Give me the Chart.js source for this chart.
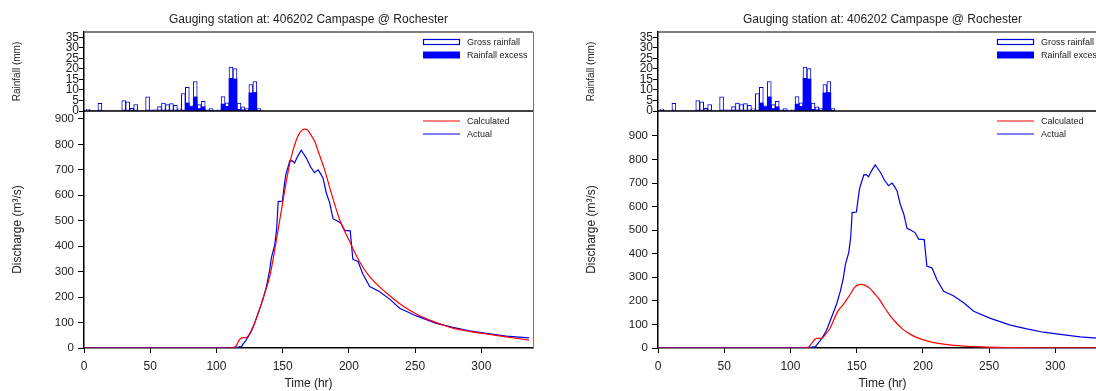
<!DOCTYPE html>
<html><head><meta charset="utf-8">
<script src="https://cdn.jsdelivr.net/npm/chart.js@4.4.1/dist/chart.umd.min.js"></script>
<style>
html,body{margin:0;padding:0;background:#fff;overflow:hidden;}
#wrap{position:relative;width:1096px;height:391px;overflow:hidden;background:#fff;}
.panel{position:absolute;top:0;width:560px;height:391px;}
.panel canvas{position:absolute;left:0;top:0;}
</style></head><body>
<div id="wrap">
  <div class="panel" style="left:0px"><canvas id="rainL" width="560" height="391"></canvas><canvas id="flowL" width="560" height="391"></canvas></div>
  <div class="panel" style="left:574px"><canvas id="rainR" width="560" height="391"></canvas><canvas id="flowR" width="560" height="391"></canvas></div>
</div>
<script>
// ---------------- data ----------------
const titleText = 'Gauging station at: 406202 Campaspe @ Rochester';

const rainTime = [3,6,9,12,15,18,21,24,27,30,33,36,39,42,45,48,51,54,57,60,63,66,69,72,75,78,81,84,87,90,93,96,99,102,105,108,111,114,117,120,123,126,129,132];
const grossRain = [0.8,0,0,3.7,0,0,0,0,0,5.0,4.3,1.3,3.1,0,0,6.7,0.5,0.5,2.1,3.8,3.0,3.5,2.7,1.0,8.3,11.2,2.4,14.0,3.0,4.6,0.5,1.1,0.4,0.6,6.9,3.9,20.9,20.1,3.8,2.0,1.1,12.6,14.0,1.1];
const excessRain = [0,0,0,0,0,0,0,0,0,0,0,0,0,0,0,0,0,0,0,0,0,0,0,0,0.3,3.8,2.0,6.7,1.2,2.0,0,0.3,0,0,3.3,2.2,15.5,15.2,0.8,0.5,0.3,8.6,8.8,0.3];

const actualTime = [0,100,112,116,119,120,122,124,126,128,131.4,135,137.7,140,141.5,144,145.5,146.6,149.8,151,152.3,154,155.4,157,159,161,164,165.5,168,171,174,176.7,178,180.5,183,185.5,188,191,194,196.8,201,203,206.9,210.6,215.7,223,230.8,238.3,251,266,278.5,291,303.7,318.8,336];
const actualFlow = [2,2,3,4,6,14,28,44,62,86,136,189,241,300,355,405,470,575,577,630,680,710,735,736,727,750,777,765,745,712,689,700,690,667,608,570,508,500,490,462,460,348,340,290,241,222,192,156,126,97,81,67,58,47,40];

const calcTimeL = [0,110,113,115,117,119,122.7,126.5,130.2,135.2,140.3,144,147.8,151.6,155.4,158,160.4,162.5,164.5,166.7,168.5,170.4,174.2,178,181.7,185.5,193,200.6,208.1,215.7,228.2,240.8,253.4,266,278.5,291,303.7,318.8,336];
const calcFlowL = [0,0,1,10,30,40,42,71,117,195,282,385,503,621,726,780,818,842,855,860,857,845,811,755,700,630,505,418,339,280,217,165,127,100,78,65,55,44,31];

const calcTimeR = [0,110,113,116,119.7,123.5,127,129.9,134.9,137.3,139.7,144.8,148.6,151,153.6,156.5,159.9,163.5,167.4,171,175,180,185,190,195.1,205.1,220,237.8,263,300,336];
const calcFlowR = [0,0,1,20,41,41,62,84,147,168,183,225,258,268,270,266,253,231,204,172,140,106,79,60,45,27,13,6,2,1,0.5];

const rainTicks = [0,5,10,15,20,25,30,35];
const flowTicks = [0,100,200,300,400,500,600,700,800,900];
const timeTicks = [0,50,100,150,200,250,300];

// ---------------- helpers ----------------
const FONT = '"Liberation Sans", Arial, Helvetica, sans-serif';
const TXT = '#222';
const BLUE = '#0000ff';
const RED = '#ff0000';
const X_MAX = 339;

function pts(xs, ys){ return xs.map((x,i)=>({x:x, y:ys[i]})); }

const framePlugin = {
  id: 'frame',
  afterDatasetsDraw(chart, args, o){
    const a = chart.chartArea, ctx = chart.ctx;
    ctx.save();
    if (o.top){ ctx.strokeStyle = o.top; ctx.lineWidth = o.topWidth || 1; ctx.beginPath(); ctx.moveTo(a.left, a.top); ctx.lineTo(a.right, a.top); ctx.stroke(); }
    if (o.right){ ctx.strokeStyle = o.right; ctx.lineWidth = 1; ctx.beginPath(); ctx.moveTo(a.right+0.5, a.top); ctx.lineTo(a.right+0.5, a.bottom); ctx.stroke(); }
    ctx.restore();
  }
};

const legendPlugin = {
  id: 'insideLegend',
  afterDraw(chart, args, o){
    if (!o.display) return;
    const a = chart.chartArea, ctx = chart.ctx;
    ctx.save();
    ctx.font = '9px ' + FONT;
    ctx.textBaseline = 'middle';
    ctx.textAlign = 'left';
    const bw = 37;
    const x1 = a.right - 73 - bw;
    chart.data.datasets.forEach((ds, i) => {
      const y = a.top + o.top + i * o.gap;
      if (ds.legendKind === 'outline'){
        ctx.strokeStyle = ds.borderColor; ctx.lineWidth = 1.2;
        ctx.strokeRect(x1 + 0.5, y - 2.5, bw - 1, 5);
      } else if (ds.legendKind === 'fill'){
        ctx.fillStyle = ds.backgroundColor;
        ctx.fillRect(x1, y - 3.5, bw, 7);
      } else {
        ctx.strokeStyle = ds.borderColor; ctx.lineWidth = 1.2;
        ctx.beginPath(); ctx.moveTo(x1, y); ctx.lineTo(x1 + bw, y); ctx.stroke();
      }
      ctx.fillStyle = TXT;
      ctx.fillText(ds.label, x1 + bw + 7, y + 0.5);
    });
    ctx.restore();
  }
};

function rainChart(id){
  return new Chart(document.getElementById(id), {
    type: 'bar',
    data: {
      datasets: [
        { label: 'Gross rainfall', legendKind: 'outline', data: pts(rainTime, grossRain), order: 1,
          backgroundColor: '#ffffff', borderColor: '#0000dd', borderWidth: 1, borderSkipped: false,
          grouped: false, barPercentage: 1, categoryPercentage: 1 },
        { label: 'Rainfall excess', legendKind: 'fill', data: pts(rainTime, excessRain), order: 0,
          backgroundColor: BLUE, borderWidth: 0,
          grouped: false, barPercentage: 1, categoryPercentage: 1 }
      ]
    },
    options: {
      responsive: false, animation: false, events: [],
      layout: { padding: { left: 0, right: 27, top: 0, bottom: 280 } },
      plugins: {
        legend: { display: false }, tooltip: { enabled: false },
        title: { display: true, text: titleText, fullSize: false, color: TXT,
                 font: { family: FONT, size: 12, weight: 'normal' }, padding: { top: 12.8, bottom: 4.8 } },
        frame: { top: '#555', topWidth: 1.5, right: '#777' },
        insideLegend: { display: true, top: 10, gap: 13 }
      },
      scales: {
        x: { type: 'linear', min: 0, max: X_MAX, offset: false, display: false },
        y: { type: 'linear', min: 0, max: 37.5, position: 'left',
             afterFit: s => { s.width = 84; },
             afterBuildTicks: s => { s.ticks = rainTicks.map(v => ({ value: v })); },
             ticks: { autoSkip: false, padding: 0, color: TXT, font: { family: FONT, size: 12 } },
             grid: { drawOnChartArea: false, drawTicks: true, tickLength: 5, color: '#000' },
             border: { display: true, color: '#000', width: 1.5 },
             title: { display: true, text: 'Rainfall (mm)', color: TXT, font: { family: FONT, size: 10 }, padding: { top: 11, bottom: 0 } } }
      }
    },
    plugins: [framePlugin, legendPlugin]
  });
}

function flowChart(id, calcT, calcQ, yMax){
  return new Chart(document.getElementById(id), {
    type: 'line',
    data: {
      datasets: [
        { label: 'Calculated', data: pts(calcT, calcQ), borderColor: RED, borderWidth: 1.2,
          pointRadius: 0, cubicInterpolationMode: 'monotone', fill: false },
        { label: 'Actual', data: pts(actualTime, actualFlow), borderColor: '#0000e6', borderWidth: 1.2,
          pointRadius: 0, tension: 0, fill: false }
      ]
    },
    options: {
      responsive: false, animation: false, events: [],
      layout: { padding: { left: 0, right: 27, top: 111, bottom: 0 } },
      plugins: {
        legend: { display: false }, tooltip: { enabled: false }, title: { display: false },
        frame: { top: '#000', topWidth: 1.5, right: '#777' },
        insideLegend: { display: true, top: 10, gap: 13 }
      },
      scales: {
        x: { type: 'linear', min: 0, max: X_MAX, position: 'bottom',
             afterFit: s => { s.height = 43; },
             afterBuildTicks: s => { s.ticks = timeTicks.map(v => ({ value: v })); },
             ticks: { autoSkip: false, maxRotation: 0, padding: 6, color: TXT, font: { family: FONT, size: 12 } },
             grid: { drawOnChartArea: false, drawTicks: true, tickLength: 5, color: '#000' },
             border: { display: true, color: '#000', width: 1.5 },
             title: { display: true, text: 'Time (hr)', color: TXT, font: { family: FONT, size: 12 }, padding: { top: 0, bottom: 0 } } },
        y: { type: 'linear', min: 0, max: yMax, position: 'left',
             afterFit: s => { s.width = 84; },
             afterBuildTicks: s => { s.ticks = flowTicks.map(v => ({ value: v })); },
             ticks: { autoSkip: false, padding: 4, color: TXT, font: { family: FONT, size: 11.5 } },
             grid: { drawOnChartArea: false, drawTicks: true, tickLength: 6, color: '#000' },
             border: { display: true, color: '#000', width: 1.5 },
             title: { display: true, text: 'Discharge (m³/s)', color: TXT, font: { family: FONT, size: 12 }, padding: { top: 10, bottom: 0 } } }
      }
    },
    plugins: [framePlugin, legendPlugin]
  });
}

rainChart('rainL');
flowChart('flowL', calcTimeL, calcFlowL, 931);
rainChart('rainR');
flowChart('flowR', calcTimeR, calcFlowR, 1006);
</script>
</body></html>
